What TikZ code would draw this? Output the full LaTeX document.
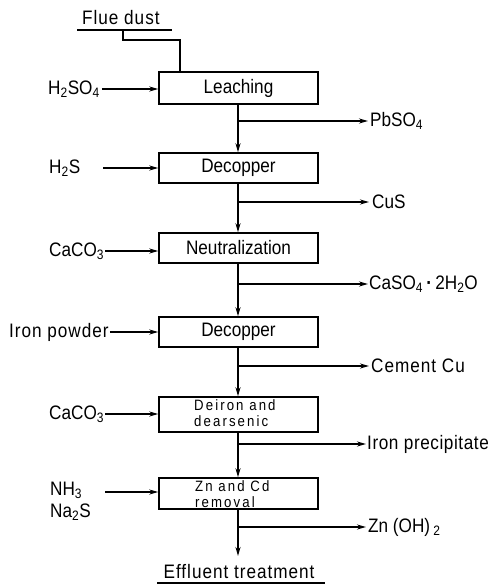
\documentclass[tikz,border=0pt]{standalone}
\usepackage{fontspec}
\setmainfont[FakeStretch=0.88]{Liberation Sans}
\usetikzlibrary{arrows.meta}
\tikzset{
  proc/.style={draw, line width=1.5pt, minimum width=159pt, inner sep=0pt, font=\fontsize{19.5}{22}\selectfont, align=center},
  lbl/.style={inner sep=0pt, font=\fontsize{19.5}{22}\selectfont, anchor=west},
  wide/.style={font=\fontsize{19.5}{22}\selectfont\addfontfeature{LetterSpace=5}},
  flow/.style={line width=1.5pt, -{Stealth[length=9pt,width=5pt]}},
  plain/.style={line width=1.5pt},
  small/.style={font=\fontsize{15}{16.5}\selectfont\addfontfeature{LetterSpace=14}, align=left, inner sep=0pt}
}
\begin{document}
\begin{tikzpicture}[x=1pt,y=-1pt]
\useasboundingbox (0,0) rectangle (497,585);
% boxes
\node[proc, minimum height=32pt] (leach) at (238.5,88) {Leaching};
\node[proc, minimum height=30pt] (dec1) at (238.5,168) {Decopper};
\node[proc, minimum height=30pt] (neut) at (238.5,248) {Neutralization};
\node[proc, minimum height=30pt] (dec2) at (238.5,332) {Decopper};
\node[proc, minimum height=35pt] (deir) at (238.5,414.5) {};
\node[small, anchor=north west] (deirt) at (194,399) {Deiron and\\dearsenic};
\node[proc, minimum height=31pt] (znrm) at (238.5,493.5) {};
\node[small, anchor=north west] (znrmt) at (195,480) {Zn and Cd\\removal};
% flue dust
\node[lbl, wide, anchor=base west] (flue) at (82,25) {Flue dust};
\coordinate (fu1) at (77,30);
\coordinate (fu2) at (172,30);
\draw[plain] (fu1) -- (fu2);
\coordinate (fd) at (123,30);
\coordinate (fin) at (180,72);
\draw[plain] (fd) -- (123,40) -| (fin);
% inputs
\node[lbl] (h2so4) at (48,89) {H\textsubscript{2}SO\textsubscript{4}};
\draw[flow] ([xshift=2pt]h2so4.east) -- (h2so4.east -| leach.west);
\node[lbl] (h2s) at (49,168) {H\textsubscript{2}S};
\coordinate (h2sa) at (103,168);
\draw[flow] (h2sa) -- (h2sa -| dec1.west);
\node[lbl] (caco1) at (49,251) {CaCO\textsubscript{3}};
\draw[flow] ([xshift=1pt]caco1.east) -- (caco1.east -| neut.west);
\node[lbl, wide] (iron) at (9,332) {Iron powder};
\draw[flow] ([xshift=1pt]iron.east) -- (iron.east -| dec2.west);
\node[lbl] (caco2) at (49,414) {CaCO\textsubscript{3}};
\draw[flow] ([xshift=1pt]caco2.east) -- (caco2.east -| deir.west);
\node[lbl, align=left] (nh3) at (50,501) {NH\textsubscript{3}\\Na\textsubscript{2}S};
\coordinate (nha) at (105,492);
\draw[flow] (nha) -- (nha -| znrm.west);
% main line
\coordinate (m) at (238,0);
\draw[flow] (leach.south -| m) -- (dec1.north -| m);
\draw[flow] (dec1.south -| m) -- (neut.north -| m);
\draw[flow] (neut.south -| m) -- (dec2.north -| m);
\draw[flow] (dec2.south -| m) -- (deir.north -| m);
\draw[flow] (deir.south -| m) -- (znrm.north -| m);
\coordinate (eff) at (238,556);
\draw[flow] (znrm.south -| m) -- (eff);
% outputs
\node[lbl] (pb) at (370,121) {PbSO\textsubscript{4}};
\coordinate (b1) at (238,121);
\draw[flow] (b1) -- ([xshift=-2pt]pb.west);
\node[lbl] (cus) at (372,202) {CuS};
\coordinate (b2) at (238,202);
\draw[flow] (b2) -- ([xshift=-3pt]cus.west);
\node[lbl] (caso) at (369,284) {CaSO\textsubscript{4}\,\textbf{·}\,2H\textsubscript{2}O};
\coordinate (b3) at (238,284);
\draw[flow] (b3) -- ([xshift=-1pt]caso.west);
\node[lbl, wide] (cem) at (371,366) {Cement Cu};
\coordinate (b4) at (238,366);
\draw[flow] (b4) -- ([xshift=-2pt]cem.west);
\node[lbl, font=\fontsize{19.5}{22}\selectfont\addfontfeature{LetterSpace=3}] (ipr) at (367,444) {Iron precipitate};
\coordinate (b5) at (238,444);
\draw[flow] (b5) -- ([xshift=-1pt]ipr.west);
\node[lbl] (znoh) at (368,527) {Zn (OH)\,\textsubscript{2}};
\coordinate (b6) at (238,527);
\draw[flow] (b6) -- ([xshift=-2pt]znoh.west);
% effluent
\node[lbl, wide, anchor=base] (efft) at (239,578) {Effluent treatment};
\coordinate (eu1) at (157,583);
\coordinate (eu2) at (325,583);
\draw[plain] (eu1) -- (eu2);
\end{tikzpicture}
\end{document}
